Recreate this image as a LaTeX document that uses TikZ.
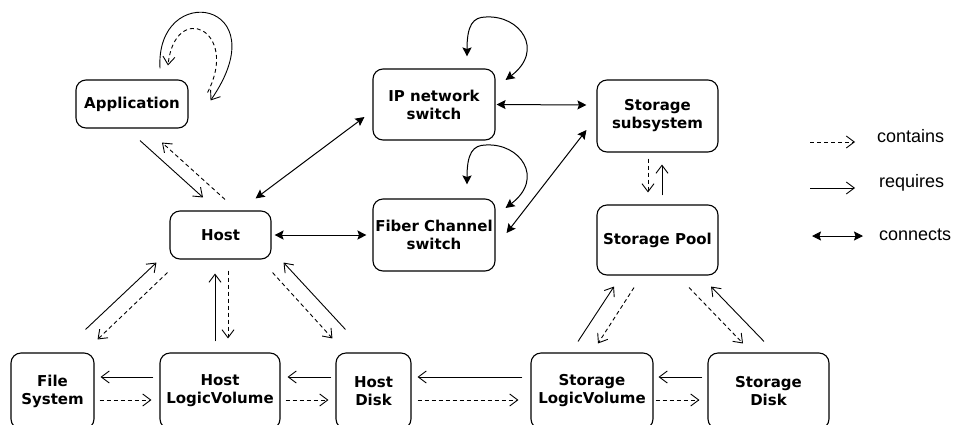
\documentclass[tikz,border=0pt]{standalone}
\usepackage{fontspec}
\setmainfont{DejaVu Sans}
\newfontfamily\legendfont{Liberation Sans}
\usetikzlibrary{arrows.meta}

\tikzset{
  box/.style={draw, rounded corners=10pt, line width=1.1pt, align=center,
    inner sep=0pt, font=\bfseries\fontsize{15}{18}\selectfont},
  vhead/.style={-{Straight Barb[length=8pt,width=12pt]}},
  req/.style={line width=0.9pt, vhead},
  cont/.style={line width=0.9pt, vhead, dash pattern=on 4pt off 3pt},
  conn/.style={line width=1pt, {Stealth[length=9pt,width=9pt,inset=1.5pt]}-{Stealth[length=9pt,width=9pt,inset=1.5pt]}},
  legendtext/.style={anchor=base west, inner sep=0pt, font=\legendfont\fontsize{18}{21}\selectfont},
}

\begin{document}
\begin{tikzpicture}[x=1pt, y=-1pt]
\useasboundingbox (0,0) rectangle (953,424);
\clip (0,0) rectangle (953,424);
\fill[white] (0,0) rectangle (953,424);

% components
\node[box, minimum width=112pt, minimum height=48pt] (app) at (132,104) {Application};
\node[box, minimum width=101pt, minimum height=48pt] (host) at (220.5,235) {Host};
\node[box, minimum width=122pt, minimum height=71pt] (ip) at (434,104.5) {IP network\\switch};
\node[box, minimum width=122pt, minimum height=72pt] (fc) at (434,235) {Fiber Channel\\switch};
\node[box, minimum width=121pt, minimum height=72pt] (ss) at (657.5,116) {Storage\\subsystem};
\node[box, minimum width=121pt, minimum height=70pt] (sp) at (657.5,240) {Storage Pool};
\node[box, minimum width=83pt, minimum height=76pt] (fs) at (52.5,391) {File\\System};
\node[box, minimum width=120pt, minimum height=76pt] (hlv) at (220,391) {Host\\LogicVolume};
\node[box, minimum width=75pt, minimum height=76pt] (hd) at (373.5,391) {Host\\Disk};
\node[box, minimum width=122pt, minimum height=76pt] (slv) at (592,391) {Storage\\LogicVolume};
\node[box, minimum width=121pt, minimum height=76pt] (sd) at (768.5,391) {Storage\\Disk};

% application self relations
\draw[req] ([shift={(28,-11)}]app.north) .. controls (155,-20) and (280,0) .. ([shift={(22,21)}]app.north east);
\draw[cont] ([shift={(19,13)}]app.north east) .. controls (240,30) and (175,0) .. ([shift={(36,-14)}]app.north);

% application <-> host
\draw[req] ([shift={(8,12)}]app.south) -- ([shift={(-17.5,-13)}]host.north);
\draw[cont] ([shift={(4.5,-11)}]host.north) -- ([shift={(30,14)}]app.south);

% network links
\draw[conn] ([shift={(-16,-12)}]host.north east) -- ([shift={(-8,12.5)}]ip.west);
\draw[conn] ([xshift=3]host.east) -- ([xshift=-6]fc.west);
\draw[conn] ([xshift=1]ip.east) -- ([shift={(-10,-11)}]ss.west);
\draw[conn] ([shift={(11,-2)}]fc.east) -- ([shift={(-10,14)}]ss.west);

% switch self links
\draw[conn] ([shift={(33,-12)}]ip.north) .. controls (467,25) and (473,17) .. (486,17)
  .. controls (520,15) and (545,50) .. ([shift={(10,-24.5)}]ip.east);
\draw[conn] ([shift={(33,-14)}]fc.north) .. controls (467,153) and (473,145) .. (486,145)
  .. controls (520,143) and (545,178) .. ([shift={(10,-27)}]fc.east);

% subsystem <-> pool
\draw[cont] ([shift={(-9.5,6)}]ss.south) -- ([shift={(-9.5,-12)}]sp.north);
\draw[req] ([shift={(4.5,-9)}]sp.north) -- ([shift={(4.5,12)}]ss.south);

% host <-> host storage
\draw[req] ([shift={(-9,-23)}]fs.north east) -- ([shift={(-13,3)}]host.south west);
\draw[cont] ([shift={(-2,13)}]host.south west) -- ([shift={(3,-13)}]fs.north east);
\draw[req] ([shift={(-5,-11)}]hlv.north) -- ([shift={(-5.5,14)}]host.south);
\draw[cont] ([shift={(7.5,11)}]host.south) -- ([shift={(8,-14)}]hlv.north);
\draw[cont] ([shift={(1,13)}]host.south east) -- ([shift={(-3,-14)}]hd.north west);
\draw[req] ([shift={(10,-23)}]hd.north west) -- ([shift={(12,3)}]host.south east);

% bottom chain
\draw[req] ([shift={(-6,-14)}]hlv.west) -- ([shift={(6,-14)}]fs.east);
\draw[cont] ([shift={(5,9)}]fs.east) -- ([shift={(-8,9)}]hlv.west);
\draw[req] ([shift={(-4,-14)}]hd.west) -- ([shift={(7,-14)}]hlv.east);
\draw[cont] ([shift={(5,9)}]hlv.east) -- ([shift={(-7,9)}]hd.west);
\draw[req] ([shift={(-8,-14)}]slv.west) -- ([shift={(6,-14)}]hd.east);
\draw[cont] ([shift={(6,9)}]hd.east) -- ([shift={(-12,9)}]slv.west);
\draw[req] ([shift={(-5,-14)}]sd.west) -- ([shift={(5,-14)}]slv.east);
\draw[cont] ([shift={(2,9)}]slv.east) -- ([shift={(-8,9)}]sd.west);

% pool <-> storage volumes
\draw[req] ([shift={(-14,-11)}]slv.north) -- ([shift={(-43.5,11)}]sp.south);
\draw[cont] ([shift={(-23.5,12)}]sp.south) -- ([shift={(6,-9)}]slv.north);
\draw[cont] ([shift={(31.5,12)}]sp.south) -- ([shift={(-25.5,-9)}]sd.north);
\draw[req] ([shift={(-4.5,-11)}]sd.north) -- ([shift={(53.5,11)}]sp.south);

% legend
\coordinate (lc1) at (810,142);
\coordinate (lc2) at (855,142);
\coordinate (lr1) at (810,188);
\coordinate (lr2) at (855,188);
\coordinate (ln1) at (812,236);
\coordinate (ln2) at (863,236);
\draw[cont] (lc1) -- (lc2);
\draw[req] (lr1) -- (lr2);
\draw[conn] (ln1) -- (ln2);
\node[legendtext] (lct) at (877,142) {contains};
\node[legendtext] (lrt) at (879,187) {requires};
\node[legendtext] (lnt) at (879,240) {connects};
\end{tikzpicture}
\end{document}
